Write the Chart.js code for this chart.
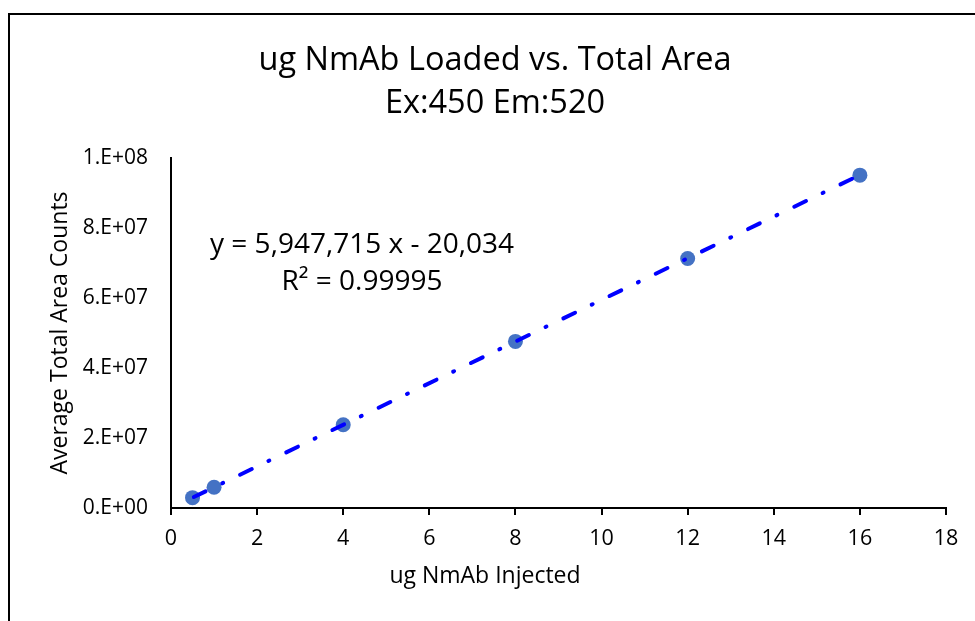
<html>
<head>
    <script src="https://cdn.jsdelivr.net/npm/chart.js@4.4.1/dist/chart.umd.min.js"></script>
    <style>
        body { margin: 0; background: #fff; }
        #wrap { width: 975px; height: 621px; }
    </style>
</head>
<body>
<div id="wrap"><canvas id="chart" width="975" height="621"></canvas></div>
<script>
    // values
    let ugLoaded = [0.5, 1, 4, 8, 12, 16];
    let totalArea = [2.95e6, 5.93e6, 2.38e7, 4.76e7, 7.13e7, 9.51e7];

    // trendline as printed on the chart
    let slope = 5947715;
    let intercept = -20034;
    let rSquared = '0.99995';

    let xTicks = [0, 2, 4, 6, 8, 10, 12, 14, 16, 18];
    let yTicks = [0, 2e7, 4e7, 6e7, 8e7, 1e8];

    let FONT = "'Open Sans', sans-serif";

    function sci(v) {
        if (v === 0) return '0.E+00';
        let e = Math.floor(Math.log10(v) + 1e-9);
        let m = Math.round(v / Math.pow(10, e));
        return m + '.E+' + (e < 10 ? '0' + e : e);
    }

    let first = ugLoaded[0], last = ugLoaded[ugLoaded.length - 1];
    let trend = [
        { x: first, y: slope * first + intercept },
        { x: last, y: slope * last + intercept }
    ];

    let frame = {
        id: 'frame',
        beforeDraw(chart) {
            let ctx = chart.ctx;
            ctx.save();
            ctx.fillStyle = '#fff';
            ctx.fillRect(0, 0, chart.width, chart.height);
            ctx.strokeStyle = '#000';
            ctx.lineWidth = 2;
            ctx.strokeRect(9, 14, 1000, 700);
            ctx.restore();
        }
    };

    // trendline label and x axis title (Excel centres it on the whole chart, not the plot)
    let labels = {
        id: 'labels',
        afterDraw(chart) {
            let ctx = chart.ctx;
            ctx.save();
            ctx.fillStyle = '#000';
            ctx.textAlign = 'center';
            ctx.textBaseline = 'alphabetic';
            ctx.font = '28px ' + FONT;
            let eq = 'y = ' + slope.toLocaleString('en-US') + ' x - ' + Math.abs(intercept).toLocaleString('en-US');
            ctx.fillText(eq, 362, 253);
            ctx.fillText('R\u00B2 = ' + rSquared, 362, 290);
            ctx.font = '23px ' + FONT;
            ctx.textBaseline = 'middle';
            ctx.fillText('ug NmAb Injected', 485, 576);
            ctx.restore();
        }
    };

    let ctx = document.getElementById('chart').getContext('2d');
    let myChart = new Chart(ctx, {
        type: 'scatter',
        data: {
            datasets: [{
                label: 'trend',
                type: 'line',
                data: trend,
                borderColor: '#0000FF',
                borderWidth: 4,
                borderDash: [13, 18.5, 1, 18.8],
                borderDashOffset: -1.5,
                borderCapStyle: 'round',
                pointRadius: 0,
                fill: false,
                order: 0
            }, {
                label: 'Total Area',
                data: ugLoaded.map((x, i) => ({ x: x, y: totalArea[i] })),
                backgroundColor: '#4472C4',
                borderWidth: 0,
                pointRadius: 7.5,
                pointHoverRadius: 7.5,
                order: 1
            }]
        },
        options: {
            responsive: false,
            animation: false,
            layout: { padding: { left: 44, right: 29, top: 0, bottom: 0 } },
            plugins: {
                legend: { display: false },
                tooltip: { enabled: false },
                title: {
                    display: true,
                    text: ['ug NmAb Loaded vs. Total Area', 'Ex:450 Em:520'],
                    color: '#000',
                    font: { family: FONT, size: 32.5, weight: 'normal', lineHeight: '43px' },
                    padding: { top: 39, bottom: 33 }
                }
            },
            scales: {
                x: {
                    type: 'linear',
                    min: 0,
                    max: 18,
                    afterFit: s => { s.height = 113; },
                    afterBuildTicks: s => { s.ticks = xTicks.map(v => ({ value: v })); },
                    grid: { display: true, drawOnChartArea: false, drawTicks: true, tickLength: 7, color: '#000', lineWidth: 2 },
                    border: { display: true, color: '#000', width: 2 },
                    ticks: { color: '#000', padding: 11, font: { family: FONT, size: 21.5 }, maxRotation: 0 }
                },
                y: {
                    type: 'linear',
                    min: 0,
                    max: 1e8,
                    afterFit: s => { s.width = 127; },
                    afterBuildTicks: s => { s.ticks = yTicks.map(v => ({ value: v })); },
                    grid: { display: false, drawTicks: false },
                    border: { display: true, color: '#000', width: 2 },
                    ticks: { color: '#000', padding: 23, font: { family: FONT, size: 21 }, callback: v => sci(v) },
                    title: {
                        display: true,
                        text: 'Average Total Area Counts',
                        color: '#000',
                        font: { family: FONT, size: 23, lineHeight: '25px' },
                        padding: { top: 4, bottom: 4 }
                    }
                }
            }
        },
        plugins: [frame, labels]
    });
</script>
</body>
</html>
